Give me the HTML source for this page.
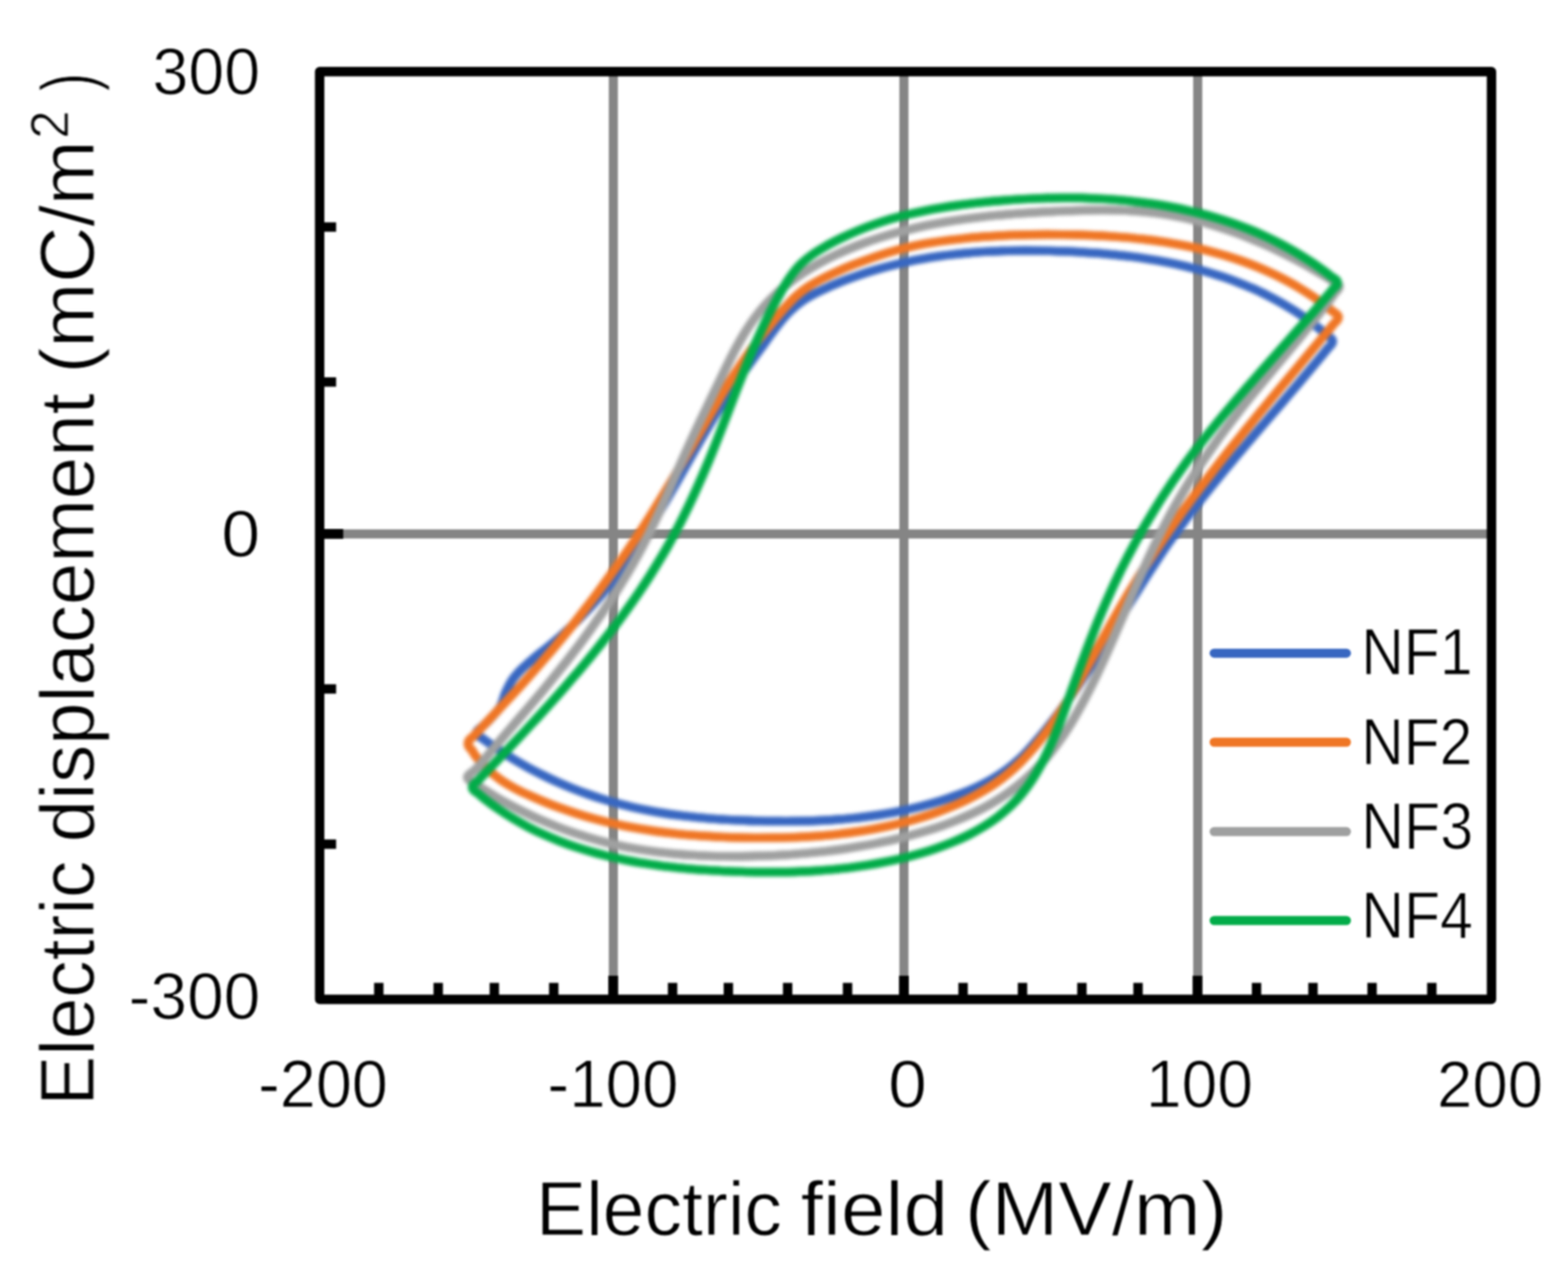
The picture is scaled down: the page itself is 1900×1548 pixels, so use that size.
<!DOCTYPE html>
<html lang="en">
<head>
<meta charset="utf-8">
<title>Electric displacement vs. electric field hysteresis loops (NF1-NF4)</title>
<style>
html,body{margin:0;padding:0;background:#fff;}
body{width:1900px;height:1548px;overflow:hidden;}
svg{display:block;}
.ln{filter:blur(1.0px);}
.cv{filter:blur(2.3px);}
.tx{filter:blur(1.0px);}
text{font-family:"Liberation Sans", sans-serif;fill:#000;stroke:#fff;stroke-width:1.0px;stroke-linejoin:round;}
</style>
</head>
<body>
<svg width="1900" height="1548" viewBox="0 0 1900 1548">
<rect x="0" y="0" width="1900" height="1548" fill="#fff"/>
<g class="ln" stroke="#858585" stroke-width="11" fill="none">
<line x1="743.2" y1="86.8" x2="743.2" y2="1210.5"/>
<line x1="1095.3" y1="86.8" x2="1095.3" y2="1210.5"/>
<line x1="1451.3" y1="86.8" x2="1451.3" y2="1210.5"/>
<line x1="387.3" y1="646.8" x2="1807.3" y2="646.8"/>
</g>
<g class="cv" fill="none" stroke-width="10.4" stroke-linejoin="round" stroke-linecap="round">
<g stroke="#3867C1"><path transform="translate(-0.4 0)" d="M1608.4 406.5C1607.2 405.4 1604.8 403.0 1600.9 399.9C1597.1 396.8 1590.6 391.8 1585.3 387.9C1580.1 384.1 1574.7 380.4 1569.3 376.9C1563.8 373.4 1558.3 370.1 1552.8 366.9C1547.2 363.7 1541.5 360.7 1535.8 357.8C1530.1 355.0 1524.3 352.2 1518.5 349.6C1512.7 347.1 1506.8 344.6 1500.8 342.3C1494.9 340.0 1488.9 337.8 1482.8 335.7C1476.8 333.7 1470.7 331.7 1464.5 329.9C1458.4 328.1 1452.2 326.4 1446.0 324.8C1439.7 323.3 1433.5 321.8 1427.2 320.4C1420.9 319.0 1414.5 317.8 1408.2 316.6C1401.8 315.4 1395.4 314.4 1389.0 313.4C1382.6 312.4 1376.1 311.5 1369.7 310.7C1363.2 309.9 1356.7 309.2 1350.2 308.5C1343.7 307.9 1337.2 307.3 1330.7 306.8C1324.2 306.3 1317.7 305.9 1311.2 305.5C1304.6 305.1 1298.1 304.8 1291.6 304.5C1285.1 304.3 1278.5 304.1 1272.0 303.9C1265.5 303.7 1259.0 303.6 1252.5 303.6C1246.0 303.5 1239.5 303.5 1233.0 303.6C1226.5 303.7 1220.0 303.8 1213.5 304.0C1207.1 304.2 1200.6 304.5 1194.2 304.9C1187.7 305.3 1181.3 305.7 1174.9 306.2C1168.4 306.8 1162.0 307.4 1155.7 308.1C1149.3 308.8 1142.9 309.6 1136.5 310.5C1130.2 311.5 1123.8 312.5 1117.5 313.6C1111.2 314.7 1104.9 315.9 1098.6 317.3C1092.4 318.6 1086.1 320.1 1079.9 321.7C1073.7 323.2 1067.5 324.9 1061.3 326.8C1055.1 328.6 1048.9 330.5 1042.8 332.6C1036.7 334.7 1030.6 336.9 1024.5 339.2C1018.5 341.6 1012.5 344.0 1006.5 346.6C1000.5 349.3 994.4 351.9 988.7 354.9C982.9 357.9 977.1 361.1 971.9 364.8C966.7 368.5 961.8 372.6 957.2 377.1C952.6 381.5 948.5 386.4 944.4 391.4C940.3 396.4 936.5 401.7 932.6 407.0C928.8 412.2 925.1 417.6 921.3 422.8C917.5 428.1 913.7 433.2 909.9 438.4C906.1 443.6 902.3 448.8 898.6 454.0C894.9 459.2 891.3 464.4 887.7 469.8C884.1 475.1 880.6 480.5 877.1 485.9C873.7 491.4 870.2 496.9 866.9 502.4C863.5 508.0 860.2 513.5 856.9 519.1C853.6 524.7 850.3 530.4 847.1 536.0C843.9 541.7 840.6 547.3 837.4 553.0C834.2 558.7 831.0 564.4 827.8 570.0C824.6 575.7 821.4 581.3 818.2 587.0C815.0 592.6 811.8 598.2 808.5 603.8C805.3 609.4 802.0 614.9 798.7 620.4C795.4 625.9 792.1 631.4 788.7 636.8C785.3 642.3 781.9 647.7 778.4 653.0C774.9 658.4 771.3 663.7 767.7 669.0C764.1 674.2 760.5 679.4 756.7 684.6C752.9 689.8 749.1 694.9 745.2 700.0C741.3 705.0 737.3 710.0 733.2 715.0C729.1 719.9 724.9 724.8 720.6 729.6C716.3 734.5 711.9 739.2 707.3 743.9C702.8 748.6 698.1 753.3 693.3 757.8C688.5 762.4 683.6 766.9 678.6 771.3C673.5 775.7 668.2 780.1 663.0 784.4C657.7 788.7 652.2 792.9 647.0 797.2C641.9 801.5 636.8 805.8 632.3 810.3C627.8 814.8 623.6 819.4 620.3 824.3C617.0 829.2 614.8 834.3 612.4 839.7C610.1 845.0 609.5 850.8 606.1 856.4C602.7 861.9 595.7 868.8 591.9 873.0C588.1 877.1 584.7 879.8 583.3 881.1Q571.4 888.3 584.0 893.9C585.3 894.9 587.7 896.8 591.6 899.5C595.5 902.3 602.2 906.9 607.6 910.4C613.0 913.9 618.5 917.3 624.0 920.6C629.6 923.9 635.2 927.1 640.8 930.2C646.5 933.2 652.2 936.2 658.0 939.0C663.7 941.9 669.5 944.6 675.4 947.2C681.3 949.8 687.2 952.3 693.1 954.7C699.1 957.1 705.1 959.4 711.1 961.5C717.2 963.7 723.3 965.7 729.4 967.6C735.5 969.5 741.7 971.3 747.9 973.0C754.1 974.7 760.3 976.2 766.5 977.7C772.8 979.1 779.1 980.4 785.4 981.6C791.7 982.9 798.0 984.0 804.4 985.0C810.7 986.0 817.1 986.9 823.5 987.7C829.9 988.5 836.3 989.2 842.7 989.9C849.1 990.5 855.5 991.1 862.0 991.6C868.4 992.1 874.9 992.5 881.3 992.9C887.7 993.3 894.2 993.6 900.7 993.8C907.1 994.1 913.6 994.3 920.0 994.4C926.5 994.6 932.9 994.7 939.3 994.8C945.8 994.8 952.2 994.9 958.6 994.8C965.1 994.7 971.5 994.6 977.9 994.5C984.3 994.3 990.7 994.0 997.1 993.7C1003.6 993.4 1010.0 993.0 1016.3 992.5C1022.7 992.0 1029.1 991.5 1035.5 990.8C1041.9 990.1 1048.2 989.4 1054.6 988.5C1060.9 987.7 1067.3 986.7 1073.6 985.6C1080.0 984.6 1086.3 983.4 1092.6 982.1C1098.9 980.8 1105.3 979.4 1111.6 977.8C1117.9 976.3 1124.1 974.6 1130.4 972.8C1136.7 971.0 1143.0 969.1 1149.2 966.9C1155.4 964.8 1161.7 962.6 1167.8 960.2C1173.9 957.7 1180.0 955.2 1185.8 952.3C1191.7 949.5 1197.5 946.5 1203.1 943.2C1208.6 940.0 1214.1 936.5 1219.2 932.8C1224.3 929.0 1229.2 925.0 1233.9 920.7C1238.6 916.5 1242.9 911.9 1247.2 907.2C1251.5 902.6 1255.6 897.8 1259.7 893.0C1263.8 888.1 1267.8 883.2 1271.7 878.2C1275.6 873.2 1279.5 868.2 1283.3 863.1C1287.1 858.0 1290.8 852.8 1294.5 847.6C1298.2 842.4 1301.8 837.1 1305.4 831.8C1309.0 826.5 1312.6 821.1 1316.1 815.7C1319.6 810.3 1323.1 804.9 1326.5 799.4C1330.0 794.0 1333.4 788.5 1336.8 783.0C1340.2 777.5 1343.6 772.0 1347.0 766.5C1350.4 761.0 1353.8 755.4 1357.2 749.9C1360.5 744.3 1363.9 738.8 1367.3 733.3C1370.7 727.7 1374.1 722.2 1377.6 716.7C1381.0 711.2 1384.4 705.7 1387.9 700.2C1391.4 694.7 1394.9 689.3 1398.5 683.9C1402.0 678.4 1405.6 673.0 1409.2 667.7C1412.8 662.3 1416.5 657.0 1420.3 651.8C1424.0 646.5 1427.8 641.3 1431.6 636.1C1435.4 630.9 1439.3 625.7 1443.2 620.6C1447.1 615.5 1451.0 610.4 1455.0 605.3C1459.0 600.2 1463.0 595.2 1467.0 590.2C1471.1 585.2 1475.2 580.2 1479.2 575.2C1483.3 570.2 1487.4 565.3 1491.6 560.3C1495.7 555.4 1499.9 550.5 1504.0 545.6C1508.2 540.7 1512.3 535.8 1516.5 530.9C1520.7 526.0 1524.9 521.1 1529.1 516.2C1533.3 511.4 1537.4 506.5 1541.6 501.6C1545.8 496.7 1550.0 491.9 1554.2 487.0C1558.4 482.1 1562.5 477.2 1566.7 472.3C1570.9 467.5 1575.1 462.6 1579.2 457.6C1583.4 452.7 1587.5 447.8 1591.6 442.9C1595.8 437.9 1601.0 431.7 1604.0 428.0C1607.0 424.3 1608.8 422.0 1609.8 420.8Q1620.1 412.6 1608.4 406.5Z"/><path transform="translate(0.4 0)" d="M1608.4 406.5C1607.2 405.4 1604.8 403.0 1600.9 399.9C1597.1 396.8 1590.6 391.8 1585.3 387.9C1580.1 384.1 1574.7 380.4 1569.3 376.9C1563.8 373.4 1558.3 370.1 1552.8 366.9C1547.2 363.7 1541.5 360.7 1535.8 357.8C1530.1 355.0 1524.3 352.2 1518.5 349.6C1512.7 347.1 1506.8 344.6 1500.8 342.3C1494.9 340.0 1488.9 337.8 1482.8 335.7C1476.8 333.7 1470.7 331.7 1464.5 329.9C1458.4 328.1 1452.2 326.4 1446.0 324.8C1439.7 323.3 1433.5 321.8 1427.2 320.4C1420.9 319.0 1414.5 317.8 1408.2 316.6C1401.8 315.4 1395.4 314.4 1389.0 313.4C1382.6 312.4 1376.1 311.5 1369.7 310.7C1363.2 309.9 1356.7 309.2 1350.2 308.5C1343.7 307.9 1337.2 307.3 1330.7 306.8C1324.2 306.3 1317.7 305.9 1311.2 305.5C1304.6 305.1 1298.1 304.8 1291.6 304.5C1285.1 304.3 1278.5 304.1 1272.0 303.9C1265.5 303.7 1259.0 303.6 1252.5 303.6C1246.0 303.5 1239.5 303.5 1233.0 303.6C1226.5 303.7 1220.0 303.8 1213.5 304.0C1207.1 304.2 1200.6 304.5 1194.2 304.9C1187.7 305.3 1181.3 305.7 1174.9 306.2C1168.4 306.8 1162.0 307.4 1155.7 308.1C1149.3 308.8 1142.9 309.6 1136.5 310.5C1130.2 311.5 1123.8 312.5 1117.5 313.6C1111.2 314.7 1104.9 315.9 1098.6 317.3C1092.4 318.6 1086.1 320.1 1079.9 321.7C1073.7 323.2 1067.5 324.9 1061.3 326.8C1055.1 328.6 1048.9 330.5 1042.8 332.6C1036.7 334.7 1030.6 336.9 1024.5 339.2C1018.5 341.6 1012.5 344.0 1006.5 346.6C1000.5 349.3 994.4 351.9 988.7 354.9C982.9 357.9 977.1 361.1 971.9 364.8C966.7 368.5 961.8 372.6 957.2 377.1C952.6 381.5 948.5 386.4 944.4 391.4C940.3 396.4 936.5 401.7 932.6 407.0C928.8 412.2 925.1 417.6 921.3 422.8C917.5 428.1 913.7 433.2 909.9 438.4C906.1 443.6 902.3 448.8 898.6 454.0C894.9 459.2 891.3 464.4 887.7 469.8C884.1 475.1 880.6 480.5 877.1 485.9C873.7 491.4 870.2 496.9 866.9 502.4C863.5 508.0 860.2 513.5 856.9 519.1C853.6 524.7 850.3 530.4 847.1 536.0C843.9 541.7 840.6 547.3 837.4 553.0C834.2 558.7 831.0 564.4 827.8 570.0C824.6 575.7 821.4 581.3 818.2 587.0C815.0 592.6 811.8 598.2 808.5 603.8C805.3 609.4 802.0 614.9 798.7 620.4C795.4 625.9 792.1 631.4 788.7 636.8C785.3 642.3 781.9 647.7 778.4 653.0C774.9 658.4 771.3 663.7 767.7 669.0C764.1 674.2 760.5 679.4 756.7 684.6C752.9 689.8 749.1 694.9 745.2 700.0C741.3 705.0 737.3 710.0 733.2 715.0C729.1 719.9 724.9 724.8 720.6 729.6C716.3 734.5 711.9 739.2 707.3 743.9C702.8 748.6 698.1 753.3 693.3 757.8C688.5 762.4 683.6 766.9 678.6 771.3C673.5 775.7 668.2 780.1 663.0 784.4C657.7 788.7 652.2 792.9 647.0 797.2C641.9 801.5 636.8 805.8 632.3 810.3C627.8 814.8 623.6 819.4 620.3 824.3C617.0 829.2 614.8 834.3 612.4 839.7C610.1 845.0 609.5 850.8 606.1 856.4C602.7 861.9 595.7 868.8 591.9 873.0C588.1 877.1 584.7 879.8 583.3 881.1Q571.4 888.3 584.0 893.9C585.3 894.9 587.7 896.8 591.6 899.5C595.5 902.3 602.2 906.9 607.6 910.4C613.0 913.9 618.5 917.3 624.0 920.6C629.6 923.9 635.2 927.1 640.8 930.2C646.5 933.2 652.2 936.2 658.0 939.0C663.7 941.9 669.5 944.6 675.4 947.2C681.3 949.8 687.2 952.3 693.1 954.7C699.1 957.1 705.1 959.4 711.1 961.5C717.2 963.7 723.3 965.7 729.4 967.6C735.5 969.5 741.7 971.3 747.9 973.0C754.1 974.7 760.3 976.2 766.5 977.7C772.8 979.1 779.1 980.4 785.4 981.6C791.7 982.9 798.0 984.0 804.4 985.0C810.7 986.0 817.1 986.9 823.5 987.7C829.9 988.5 836.3 989.2 842.7 989.9C849.1 990.5 855.5 991.1 862.0 991.6C868.4 992.1 874.9 992.5 881.3 992.9C887.7 993.3 894.2 993.6 900.7 993.8C907.1 994.1 913.6 994.3 920.0 994.4C926.5 994.6 932.9 994.7 939.3 994.8C945.8 994.8 952.2 994.9 958.6 994.8C965.1 994.7 971.5 994.6 977.9 994.5C984.3 994.3 990.7 994.0 997.1 993.7C1003.6 993.4 1010.0 993.0 1016.3 992.5C1022.7 992.0 1029.1 991.5 1035.5 990.8C1041.9 990.1 1048.2 989.4 1054.6 988.5C1060.9 987.7 1067.3 986.7 1073.6 985.6C1080.0 984.6 1086.3 983.4 1092.6 982.1C1098.9 980.8 1105.3 979.4 1111.6 977.8C1117.9 976.3 1124.1 974.6 1130.4 972.8C1136.7 971.0 1143.0 969.1 1149.2 966.9C1155.4 964.8 1161.7 962.6 1167.8 960.2C1173.9 957.7 1180.0 955.2 1185.8 952.3C1191.7 949.5 1197.5 946.5 1203.1 943.2C1208.6 940.0 1214.1 936.5 1219.2 932.8C1224.3 929.0 1229.2 925.0 1233.9 920.7C1238.6 916.5 1242.9 911.9 1247.2 907.2C1251.5 902.6 1255.6 897.8 1259.7 893.0C1263.8 888.1 1267.8 883.2 1271.7 878.2C1275.6 873.2 1279.5 868.2 1283.3 863.1C1287.1 858.0 1290.8 852.8 1294.5 847.6C1298.2 842.4 1301.8 837.1 1305.4 831.8C1309.0 826.5 1312.6 821.1 1316.1 815.7C1319.6 810.3 1323.1 804.9 1326.5 799.4C1330.0 794.0 1333.4 788.5 1336.8 783.0C1340.2 777.5 1343.6 772.0 1347.0 766.5C1350.4 761.0 1353.8 755.4 1357.2 749.9C1360.5 744.3 1363.9 738.8 1367.3 733.3C1370.7 727.7 1374.1 722.2 1377.6 716.7C1381.0 711.2 1384.4 705.7 1387.9 700.2C1391.4 694.7 1394.9 689.3 1398.5 683.9C1402.0 678.4 1405.6 673.0 1409.2 667.7C1412.8 662.3 1416.5 657.0 1420.3 651.8C1424.0 646.5 1427.8 641.3 1431.6 636.1C1435.4 630.9 1439.3 625.7 1443.2 620.6C1447.1 615.5 1451.0 610.4 1455.0 605.3C1459.0 600.2 1463.0 595.2 1467.0 590.2C1471.1 585.2 1475.2 580.2 1479.2 575.2C1483.3 570.2 1487.4 565.3 1491.6 560.3C1495.7 555.4 1499.9 550.5 1504.0 545.6C1508.2 540.7 1512.3 535.8 1516.5 530.9C1520.7 526.0 1524.9 521.1 1529.1 516.2C1533.3 511.4 1537.4 506.5 1541.6 501.6C1545.8 496.7 1550.0 491.9 1554.2 487.0C1558.4 482.1 1562.5 477.2 1566.7 472.3C1570.9 467.5 1575.1 462.6 1579.2 457.6C1583.4 452.7 1587.5 447.8 1591.6 442.9C1595.8 437.9 1601.0 431.7 1604.0 428.0C1607.0 424.3 1608.8 422.0 1609.8 420.8Q1620.1 412.6 1608.4 406.5Z"/></g>
<g stroke="#EF7625"><path transform="translate(-0.4 0)" d="M1615.3 377.7C1613.9 376.6 1611.3 374.1 1607.2 371.1C1603.2 368.0 1596.5 363.0 1591.0 359.3C1585.5 355.5 1579.9 352.0 1574.2 348.6C1568.6 345.2 1562.8 342.0 1557.0 338.9C1551.2 335.8 1545.4 332.9 1539.4 330.2C1533.5 327.5 1527.5 324.9 1521.4 322.4C1515.4 320.0 1509.3 317.7 1503.1 315.5C1496.9 313.4 1490.7 311.4 1484.4 309.5C1478.2 307.6 1471.8 305.9 1465.5 304.2C1459.1 302.6 1452.7 301.1 1446.3 299.7C1439.8 298.3 1433.4 297.0 1426.8 295.8C1420.3 294.7 1413.8 293.6 1407.2 292.6C1400.7 291.7 1394.1 290.8 1387.5 290.0C1380.8 289.2 1374.2 288.6 1367.6 287.9C1360.9 287.3 1354.2 286.8 1347.6 286.4C1340.9 285.9 1334.2 285.5 1327.5 285.2C1320.8 284.9 1314.1 284.7 1307.4 284.5C1300.7 284.3 1294.0 284.2 1287.3 284.1C1280.6 284.0 1273.9 284.0 1267.3 284.0C1260.6 284.0 1253.9 284.1 1247.3 284.2C1240.6 284.3 1233.9 284.5 1227.3 284.7C1220.7 285.0 1214.0 285.3 1207.4 285.7C1200.8 286.0 1194.2 286.5 1187.7 287.0C1181.1 287.5 1174.5 288.1 1168.0 288.8C1161.4 289.5 1154.9 290.2 1148.4 291.1C1141.9 291.9 1135.4 292.8 1128.9 293.9C1122.5 294.9 1116.0 296.1 1109.6 297.4C1103.2 298.8 1096.8 300.3 1090.4 302.0C1084.1 303.7 1077.7 305.6 1071.4 307.5C1065.1 309.5 1058.8 311.6 1052.6 313.8C1046.3 316.0 1040.1 318.3 1033.9 320.7C1027.8 323.1 1021.6 325.7 1015.5 328.4C1009.4 331.1 1003.3 333.9 997.4 337.0C991.4 340.1 985.4 343.3 979.9 346.9C974.4 350.5 969.2 354.5 964.4 358.8C959.6 363.1 955.4 367.9 951.0 372.8C946.5 377.6 942.2 382.8 937.9 388.0C933.6 393.2 929.2 398.5 925.0 403.9C920.8 409.3 916.6 414.9 912.5 420.3C908.5 425.8 904.6 431.4 900.8 436.9C897.1 442.4 893.5 447.9 889.9 453.4C886.4 458.9 883.0 464.3 879.6 469.9C876.2 475.4 872.9 480.9 869.7 486.4C866.4 492.0 863.2 497.5 859.9 503.1C856.7 508.7 853.4 514.3 850.2 520.0C847.0 525.6 843.7 531.2 840.5 536.9C837.2 542.5 833.9 548.2 830.6 553.9C827.4 559.6 824.1 565.3 820.7 570.9C817.4 576.6 814.1 582.3 810.7 588.0C807.3 593.6 803.9 599.3 800.4 605.0C797.0 610.6 793.5 616.3 790.0 621.9C786.5 627.5 782.9 633.1 779.3 638.7C775.7 644.2 772.0 649.8 768.3 655.3C764.7 660.9 760.9 666.4 757.2 671.8C753.4 677.3 749.6 682.8 745.8 688.2C741.9 693.6 738.0 699.0 734.1 704.4C730.2 709.8 726.3 715.1 722.3 720.5C718.3 725.8 714.3 731.1 710.2 736.3C706.2 741.6 702.1 746.8 698.0 752.0C693.9 757.1 689.7 762.3 685.5 767.4C681.3 772.5 677.1 777.6 672.9 782.6C668.7 787.7 664.4 792.7 660.1 797.6C655.8 802.6 651.5 807.6 647.1 812.5C642.8 817.4 638.4 822.3 634.0 827.2C629.5 832.1 625.1 836.9 620.7 841.8C616.2 846.6 611.7 851.5 607.2 856.3C602.7 861.2 598.2 866.0 593.6 870.8C589.0 875.7 583.3 881.7 579.9 885.4C576.4 889.0 574.0 891.5 572.9 892.7Q562.3 899.7 571.6 908.3C572.5 909.8 574.2 913.2 577.5 917.2C580.7 921.1 586.3 927.4 591.1 932.0C596.0 936.5 601.2 940.7 606.5 944.5C611.9 948.3 617.6 951.5 623.4 954.7C629.2 957.8 635.2 960.5 641.2 963.3C647.3 966.1 653.6 968.8 659.9 971.3C666.1 973.9 672.5 976.4 678.9 978.7C685.3 981.0 691.7 983.2 698.1 985.2C704.5 987.3 711.0 989.2 717.4 991.0C723.9 992.8 730.3 994.5 736.8 996.0C743.3 997.6 749.8 999.0 756.3 1000.3C762.8 1001.6 769.4 1002.8 775.9 1003.9C782.5 1005.0 789.1 1006.0 795.6 1007.0C802.2 1007.9 808.8 1008.7 815.4 1009.4C822.1 1010.2 828.7 1010.8 835.3 1011.4C842.0 1011.9 848.7 1012.4 855.3 1012.8C862.0 1013.2 868.7 1013.6 875.4 1013.9C882.1 1014.2 888.9 1014.4 895.6 1014.5C902.4 1014.7 909.1 1014.8 915.9 1014.9C922.7 1014.9 929.5 1014.9 936.2 1014.8C943.0 1014.7 949.8 1014.6 956.6 1014.4C963.4 1014.2 970.2 1013.9 977.0 1013.5C983.8 1013.1 990.5 1012.6 997.3 1012.1C1004.1 1011.5 1010.8 1010.9 1017.5 1010.1C1024.3 1009.3 1031.0 1008.5 1037.6 1007.5C1044.3 1006.6 1051.0 1005.5 1057.6 1004.3C1064.2 1003.1 1070.8 1001.8 1077.4 1000.4C1083.9 999.0 1090.4 997.4 1096.9 995.8C1103.4 994.1 1109.8 992.3 1116.2 990.3C1122.5 988.3 1128.8 986.3 1135.1 984.0C1141.4 981.8 1147.6 979.4 1153.7 976.8C1159.8 974.3 1165.9 971.6 1171.9 968.6C1177.8 965.7 1183.7 962.6 1189.4 959.3C1195.2 955.9 1200.8 952.4 1206.3 948.6C1211.7 944.8 1217.1 940.7 1222.2 936.4C1227.4 932.1 1232.4 927.5 1237.2 922.7C1242.0 917.9 1246.6 912.7 1251.1 907.6C1255.6 902.4 1259.8 897.1 1264.0 891.7C1268.2 886.3 1272.1 880.9 1276.0 875.4C1279.9 869.9 1283.6 864.3 1287.3 858.7C1290.9 853.1 1294.4 847.4 1297.9 841.7C1301.4 836.0 1304.7 830.2 1308.1 824.5C1311.4 818.7 1314.7 812.9 1317.9 807.1C1321.2 801.2 1324.4 795.4 1327.6 789.5C1330.8 783.7 1334.0 777.8 1337.2 772.0C1340.4 766.2 1343.6 760.3 1346.9 754.5C1350.2 748.6 1353.5 742.8 1356.8 737.0C1360.2 731.2 1363.6 725.5 1367.0 719.7C1370.5 713.9 1374.0 708.2 1377.5 702.5C1381.0 696.8 1384.6 691.1 1388.2 685.4C1391.8 679.8 1395.5 674.1 1399.2 668.5C1402.9 662.9 1406.6 657.4 1410.4 651.8C1414.2 646.3 1418.0 640.8 1421.9 635.3C1425.7 629.8 1429.6 624.3 1433.5 618.9C1437.5 613.5 1441.4 608.1 1445.4 602.7C1449.4 597.3 1453.5 591.9 1457.5 586.6C1461.6 581.3 1465.7 576.0 1469.8 570.7C1473.9 565.4 1478.0 560.1 1482.2 554.8C1486.3 549.5 1490.5 544.3 1494.7 539.1C1498.9 533.8 1503.1 528.6 1507.3 523.4C1511.6 518.2 1515.8 513.0 1520.1 507.8C1524.3 502.6 1528.6 497.5 1532.9 492.3C1537.2 487.1 1541.5 481.9 1545.7 476.8C1550.0 471.6 1554.3 466.5 1558.6 461.3C1562.9 456.2 1567.3 451.0 1571.6 445.9C1575.9 440.7 1580.2 435.6 1584.5 430.4C1588.8 425.3 1593.1 420.1 1597.4 415.0C1601.6 409.8 1607.0 403.4 1610.2 399.5C1613.4 395.6 1615.6 393.0 1616.6 391.7Q1627.2 383.6 1615.3 377.7Z"/><path transform="translate(0.4 0)" d="M1615.3 377.7C1613.9 376.6 1611.3 374.1 1607.2 371.1C1603.2 368.0 1596.5 363.0 1591.0 359.3C1585.5 355.5 1579.9 352.0 1574.2 348.6C1568.6 345.2 1562.8 342.0 1557.0 338.9C1551.2 335.8 1545.4 332.9 1539.4 330.2C1533.5 327.5 1527.5 324.9 1521.4 322.4C1515.4 320.0 1509.3 317.7 1503.1 315.5C1496.9 313.4 1490.7 311.4 1484.4 309.5C1478.2 307.6 1471.8 305.9 1465.5 304.2C1459.1 302.6 1452.7 301.1 1446.3 299.7C1439.8 298.3 1433.4 297.0 1426.8 295.8C1420.3 294.7 1413.8 293.6 1407.2 292.6C1400.7 291.7 1394.1 290.8 1387.5 290.0C1380.8 289.2 1374.2 288.6 1367.6 287.9C1360.9 287.3 1354.2 286.8 1347.6 286.4C1340.9 285.9 1334.2 285.5 1327.5 285.2C1320.8 284.9 1314.1 284.7 1307.4 284.5C1300.7 284.3 1294.0 284.2 1287.3 284.1C1280.6 284.0 1273.9 284.0 1267.3 284.0C1260.6 284.0 1253.9 284.1 1247.3 284.2C1240.6 284.3 1233.9 284.5 1227.3 284.7C1220.7 285.0 1214.0 285.3 1207.4 285.7C1200.8 286.0 1194.2 286.5 1187.7 287.0C1181.1 287.5 1174.5 288.1 1168.0 288.8C1161.4 289.5 1154.9 290.2 1148.4 291.1C1141.9 291.9 1135.4 292.8 1128.9 293.9C1122.5 294.9 1116.0 296.1 1109.6 297.4C1103.2 298.8 1096.8 300.3 1090.4 302.0C1084.1 303.7 1077.7 305.6 1071.4 307.5C1065.1 309.5 1058.8 311.6 1052.6 313.8C1046.3 316.0 1040.1 318.3 1033.9 320.7C1027.8 323.1 1021.6 325.7 1015.5 328.4C1009.4 331.1 1003.3 333.9 997.4 337.0C991.4 340.1 985.4 343.3 979.9 346.9C974.4 350.5 969.2 354.5 964.4 358.8C959.6 363.1 955.4 367.9 951.0 372.8C946.5 377.6 942.2 382.8 937.9 388.0C933.6 393.2 929.2 398.5 925.0 403.9C920.8 409.3 916.6 414.9 912.5 420.3C908.5 425.8 904.6 431.4 900.8 436.9C897.1 442.4 893.5 447.9 889.9 453.4C886.4 458.9 883.0 464.3 879.6 469.9C876.2 475.4 872.9 480.9 869.7 486.4C866.4 492.0 863.2 497.5 859.9 503.1C856.7 508.7 853.4 514.3 850.2 520.0C847.0 525.6 843.7 531.2 840.5 536.9C837.2 542.5 833.9 548.2 830.6 553.9C827.4 559.6 824.1 565.3 820.7 570.9C817.4 576.6 814.1 582.3 810.7 588.0C807.3 593.6 803.9 599.3 800.4 605.0C797.0 610.6 793.5 616.3 790.0 621.9C786.5 627.5 782.9 633.1 779.3 638.7C775.7 644.2 772.0 649.8 768.3 655.3C764.7 660.9 760.9 666.4 757.2 671.8C753.4 677.3 749.6 682.8 745.8 688.2C741.9 693.6 738.0 699.0 734.1 704.4C730.2 709.8 726.3 715.1 722.3 720.5C718.3 725.8 714.3 731.1 710.2 736.3C706.2 741.6 702.1 746.8 698.0 752.0C693.9 757.1 689.7 762.3 685.5 767.4C681.3 772.5 677.1 777.6 672.9 782.6C668.7 787.7 664.4 792.7 660.1 797.6C655.8 802.6 651.5 807.6 647.1 812.5C642.8 817.4 638.4 822.3 634.0 827.2C629.5 832.1 625.1 836.9 620.7 841.8C616.2 846.6 611.7 851.5 607.2 856.3C602.7 861.2 598.2 866.0 593.6 870.8C589.0 875.7 583.3 881.7 579.9 885.4C576.4 889.0 574.0 891.5 572.9 892.7Q562.3 899.7 571.6 908.3C572.5 909.8 574.2 913.2 577.5 917.2C580.7 921.1 586.3 927.4 591.1 932.0C596.0 936.5 601.2 940.7 606.5 944.5C611.9 948.3 617.6 951.5 623.4 954.7C629.2 957.8 635.2 960.5 641.2 963.3C647.3 966.1 653.6 968.8 659.9 971.3C666.1 973.9 672.5 976.4 678.9 978.7C685.3 981.0 691.7 983.2 698.1 985.2C704.5 987.3 711.0 989.2 717.4 991.0C723.9 992.8 730.3 994.5 736.8 996.0C743.3 997.6 749.8 999.0 756.3 1000.3C762.8 1001.6 769.4 1002.8 775.9 1003.9C782.5 1005.0 789.1 1006.0 795.6 1007.0C802.2 1007.9 808.8 1008.7 815.4 1009.4C822.1 1010.2 828.7 1010.8 835.3 1011.4C842.0 1011.9 848.7 1012.4 855.3 1012.8C862.0 1013.2 868.7 1013.6 875.4 1013.9C882.1 1014.2 888.9 1014.4 895.6 1014.5C902.4 1014.7 909.1 1014.8 915.9 1014.9C922.7 1014.9 929.5 1014.9 936.2 1014.8C943.0 1014.7 949.8 1014.6 956.6 1014.4C963.4 1014.2 970.2 1013.9 977.0 1013.5C983.8 1013.1 990.5 1012.6 997.3 1012.1C1004.1 1011.5 1010.8 1010.9 1017.5 1010.1C1024.3 1009.3 1031.0 1008.5 1037.6 1007.5C1044.3 1006.6 1051.0 1005.5 1057.6 1004.3C1064.2 1003.1 1070.8 1001.8 1077.4 1000.4C1083.9 999.0 1090.4 997.4 1096.9 995.8C1103.4 994.1 1109.8 992.3 1116.2 990.3C1122.5 988.3 1128.8 986.3 1135.1 984.0C1141.4 981.8 1147.6 979.4 1153.7 976.8C1159.8 974.3 1165.9 971.6 1171.9 968.6C1177.8 965.7 1183.7 962.6 1189.4 959.3C1195.2 955.9 1200.8 952.4 1206.3 948.6C1211.7 944.8 1217.1 940.7 1222.2 936.4C1227.4 932.1 1232.4 927.5 1237.2 922.7C1242.0 917.9 1246.6 912.7 1251.1 907.6C1255.6 902.4 1259.8 897.1 1264.0 891.7C1268.2 886.3 1272.1 880.9 1276.0 875.4C1279.9 869.9 1283.6 864.3 1287.3 858.7C1290.9 853.1 1294.4 847.4 1297.9 841.7C1301.4 836.0 1304.7 830.2 1308.1 824.5C1311.4 818.7 1314.7 812.9 1317.9 807.1C1321.2 801.2 1324.4 795.4 1327.6 789.5C1330.8 783.7 1334.0 777.8 1337.2 772.0C1340.4 766.2 1343.6 760.3 1346.9 754.5C1350.2 748.6 1353.5 742.8 1356.8 737.0C1360.2 731.2 1363.6 725.5 1367.0 719.7C1370.5 713.9 1374.0 708.2 1377.5 702.5C1381.0 696.8 1384.6 691.1 1388.2 685.4C1391.8 679.8 1395.5 674.1 1399.2 668.5C1402.9 662.9 1406.6 657.4 1410.4 651.8C1414.2 646.3 1418.0 640.8 1421.9 635.3C1425.7 629.8 1429.6 624.3 1433.5 618.9C1437.5 613.5 1441.4 608.1 1445.4 602.7C1449.4 597.3 1453.5 591.9 1457.5 586.6C1461.6 581.3 1465.7 576.0 1469.8 570.7C1473.9 565.4 1478.0 560.1 1482.2 554.8C1486.3 549.5 1490.5 544.3 1494.7 539.1C1498.9 533.8 1503.1 528.6 1507.3 523.4C1511.6 518.2 1515.8 513.0 1520.1 507.8C1524.3 502.6 1528.6 497.5 1532.9 492.3C1537.2 487.1 1541.5 481.9 1545.7 476.8C1550.0 471.6 1554.3 466.5 1558.6 461.3C1562.9 456.2 1567.3 451.0 1571.6 445.9C1575.9 440.7 1580.2 435.6 1584.5 430.4C1588.8 425.3 1593.1 420.1 1597.4 415.0C1601.6 409.8 1607.0 403.4 1610.2 399.5C1613.4 395.6 1615.6 393.0 1616.6 391.7Q1627.2 383.6 1615.3 377.7Z"/></g>
<g stroke="#9FA0A0"><path transform="translate(-0.4 0)" d="M1615.5 340.7C1614.1 339.8 1611.2 337.9 1606.8 335.3C1602.4 332.6 1595.1 328.3 1589.1 324.9C1583.2 321.5 1577.1 318.2 1571.1 315.0C1565.0 311.8 1558.8 308.6 1552.6 305.6C1546.4 302.6 1540.2 299.6 1533.9 296.8C1527.6 294.0 1521.2 291.2 1514.8 288.6C1508.4 286.0 1501.9 283.5 1495.4 281.2C1488.9 278.8 1482.3 276.6 1475.7 274.5C1469.2 272.5 1462.5 270.5 1455.9 268.8C1449.2 267.0 1442.5 265.4 1435.8 263.9C1429.1 262.5 1422.3 261.2 1415.5 260.1C1408.7 259.0 1401.9 258.1 1395.1 257.3C1388.3 256.6 1381.4 256.0 1374.6 255.5C1367.7 255.1 1360.8 254.8 1353.9 254.6C1347.0 254.4 1340.1 254.3 1333.2 254.4C1326.3 254.4 1319.4 254.5 1312.5 254.7C1305.6 254.8 1298.7 255.1 1291.8 255.4C1284.8 255.6 1277.9 256.0 1271.0 256.3C1264.1 256.7 1257.2 257.1 1250.3 257.5C1243.5 257.9 1236.6 258.4 1229.7 258.9C1222.8 259.5 1216.0 260.0 1209.1 260.7C1202.3 261.3 1195.4 262.0 1188.6 262.8C1181.8 263.6 1175.0 264.5 1168.2 265.4C1161.4 266.4 1154.6 267.4 1147.9 268.5C1141.1 269.7 1134.4 270.9 1127.6 272.2C1120.9 273.6 1114.2 275.0 1107.5 276.6C1100.8 278.1 1094.2 279.8 1087.5 281.6C1080.9 283.4 1074.3 285.3 1067.7 287.4C1061.1 289.5 1054.5 291.7 1048.0 294.0C1041.5 296.4 1035.0 298.9 1028.6 301.6C1022.2 304.2 1015.8 307.1 1009.6 310.1C1003.4 313.1 997.2 316.3 991.2 319.6C985.2 323.0 979.3 326.6 973.5 330.3C967.8 334.1 962.2 338.1 956.8 342.2C951.4 346.4 946.2 350.8 941.2 355.4C936.2 360.1 931.4 364.9 926.8 370.0C922.3 375.1 918.0 380.5 913.9 386.0C909.8 391.6 906.0 397.4 902.4 403.3C898.7 409.3 895.3 415.4 891.9 421.6C888.6 427.7 885.4 434.1 882.3 440.3C879.1 446.6 876.1 453.0 873.1 459.2C870.1 465.5 867.1 471.7 864.1 477.8C861.1 484.0 858.2 490.1 855.3 496.2C852.3 502.3 849.4 508.4 846.5 514.5C843.6 520.6 840.8 526.7 837.9 532.9C835.1 539.0 832.3 545.2 829.5 551.5C826.7 557.7 824.0 563.9 821.2 570.2C818.4 576.5 815.7 582.8 812.9 589.1C810.1 595.4 807.3 601.7 804.4 608.0C801.6 614.3 798.7 620.6 795.8 626.8C792.8 633.1 789.8 639.3 786.8 645.5C783.7 651.7 780.5 657.9 777.3 664.0C774.1 670.0 770.8 676.1 767.4 682.1C764.0 688.1 760.5 694.0 757.0 699.9C753.4 705.8 749.8 711.7 746.1 717.5C742.4 723.3 738.6 729.1 734.8 734.8C731.0 740.5 727.1 746.2 723.1 751.8C719.2 757.5 715.2 763.1 711.1 768.6C707.1 774.2 702.9 779.7 698.8 785.2C694.6 790.7 690.4 796.1 686.2 801.5C681.9 806.9 677.6 812.3 673.3 817.6C669.0 823.0 664.6 828.3 660.2 833.6C655.8 838.9 651.4 844.1 646.9 849.3C642.5 854.6 638.0 859.8 633.5 865.0C629.1 870.2 624.6 875.4 620.1 880.6C615.6 885.8 611.1 891.0 606.6 896.3C602.2 901.6 597.7 906.8 593.3 912.2C588.8 917.5 583.5 924.4 580.0 928.2C576.5 932.0 573.6 934.1 572.4 935.2Q560.3 942.3 573.3 947.6C574.7 948.6 577.7 950.8 582.1 953.7C586.5 956.5 593.8 961.1 599.7 964.6C605.7 968.2 611.7 971.6 617.7 974.9C623.8 978.1 630.0 981.3 636.2 984.3C642.4 987.4 648.6 990.3 655.0 993.1C661.3 995.8 667.7 998.5 674.1 1001.0C680.5 1003.5 687.0 1005.9 693.5 1008.2C700.0 1010.4 706.6 1012.6 713.2 1014.5C719.8 1016.5 726.5 1018.4 733.2 1020.1C739.9 1021.8 746.6 1023.4 753.3 1024.8C760.1 1026.2 766.9 1027.5 773.7 1028.6C780.5 1029.8 787.3 1030.8 794.1 1031.7C801.0 1032.6 807.9 1033.3 814.7 1034.0C821.6 1034.6 828.5 1035.1 835.4 1035.6C842.3 1036.0 849.2 1036.4 856.1 1036.6C863.1 1036.9 870.0 1037.0 876.9 1037.1C883.8 1037.2 890.7 1037.2 897.6 1037.2C904.5 1037.1 911.4 1037.0 918.3 1036.8C925.2 1036.6 932.1 1036.4 939.0 1036.1C945.9 1035.7 952.7 1035.4 959.6 1034.9C966.5 1034.4 973.3 1033.9 980.2 1033.2C987.0 1032.6 993.9 1031.9 1000.7 1031.1C1007.5 1030.3 1014.4 1029.4 1021.2 1028.5C1028.0 1027.5 1034.8 1026.4 1041.6 1025.2C1048.4 1024.1 1055.2 1022.8 1062.0 1021.5C1068.8 1020.1 1075.6 1018.6 1082.4 1017.1C1089.1 1015.5 1095.9 1013.8 1102.7 1012.0C1109.4 1010.2 1116.2 1008.3 1122.9 1006.3C1129.6 1004.3 1136.3 1002.1 1142.8 999.8C1149.4 997.4 1156.0 995.0 1162.4 992.3C1168.8 989.6 1175.2 986.8 1181.4 983.8C1187.7 980.8 1193.8 977.6 1199.8 974.2C1205.8 970.8 1211.6 967.2 1217.3 963.3C1223.0 959.5 1228.5 955.4 1233.8 951.1C1239.2 946.8 1244.3 942.3 1249.3 937.5C1254.2 932.8 1259.0 927.8 1263.6 922.7C1268.2 917.6 1272.6 912.3 1276.8 906.8C1281.0 901.4 1285.0 895.8 1288.9 890.1C1292.7 884.4 1296.4 878.5 1299.9 872.6C1303.4 866.7 1306.8 860.6 1310.1 854.6C1313.4 848.5 1316.6 842.3 1319.7 836.2C1322.8 830.0 1325.9 823.8 1328.9 817.5C1331.9 811.3 1334.8 805.0 1337.7 798.7C1340.5 792.4 1343.4 786.0 1346.2 779.7C1349.0 773.4 1351.8 767.0 1354.5 760.6C1357.3 754.2 1360.0 747.9 1362.8 741.5C1365.6 735.1 1368.3 728.7 1371.1 722.3C1373.8 716.0 1376.6 709.6 1379.4 703.2C1382.3 696.9 1385.1 690.6 1388.0 684.3C1390.8 678.0 1393.8 671.7 1396.7 665.4C1399.7 659.2 1402.7 653.0 1405.8 646.8C1408.9 640.6 1412.0 634.5 1415.3 628.4C1418.5 622.4 1421.8 616.3 1425.2 610.4C1428.6 604.4 1432.1 598.5 1435.6 592.7C1439.2 586.8 1442.8 581.0 1446.5 575.2C1450.2 569.5 1453.9 563.8 1457.8 558.1C1461.6 552.4 1465.5 546.8 1469.5 541.2C1473.4 535.6 1477.4 530.0 1481.5 524.5C1485.6 518.9 1489.8 513.4 1494.0 507.9C1498.2 502.5 1502.4 497.0 1506.7 491.6C1511.0 486.1 1515.4 480.7 1519.8 475.3C1524.2 469.9 1528.6 464.5 1533.1 459.1C1537.6 453.8 1542.1 448.4 1546.6 443.0C1551.0 437.7 1555.6 432.3 1560.0 427.0C1564.5 421.6 1569.0 416.2 1573.4 410.9C1577.9 405.5 1582.3 400.2 1586.6 394.8C1591.0 389.4 1595.3 384.0 1599.5 378.6C1603.8 373.2 1608.9 366.5 1612.0 362.4C1615.1 358.3 1617.1 355.5 1618.1 354.1Q1628.3 345.2 1615.5 340.7Z"/><path transform="translate(0.4 0)" d="M1615.5 340.7C1614.1 339.8 1611.2 337.9 1606.8 335.3C1602.4 332.6 1595.1 328.3 1589.1 324.9C1583.2 321.5 1577.1 318.2 1571.1 315.0C1565.0 311.8 1558.8 308.6 1552.6 305.6C1546.4 302.6 1540.2 299.6 1533.9 296.8C1527.6 294.0 1521.2 291.2 1514.8 288.6C1508.4 286.0 1501.9 283.5 1495.4 281.2C1488.9 278.8 1482.3 276.6 1475.7 274.5C1469.2 272.5 1462.5 270.5 1455.9 268.8C1449.2 267.0 1442.5 265.4 1435.8 263.9C1429.1 262.5 1422.3 261.2 1415.5 260.1C1408.7 259.0 1401.9 258.1 1395.1 257.3C1388.3 256.6 1381.4 256.0 1374.6 255.5C1367.7 255.1 1360.8 254.8 1353.9 254.6C1347.0 254.4 1340.1 254.3 1333.2 254.4C1326.3 254.4 1319.4 254.5 1312.5 254.7C1305.6 254.8 1298.7 255.1 1291.8 255.4C1284.8 255.6 1277.9 256.0 1271.0 256.3C1264.1 256.7 1257.2 257.1 1250.3 257.5C1243.5 257.9 1236.6 258.4 1229.7 258.9C1222.8 259.5 1216.0 260.0 1209.1 260.7C1202.3 261.3 1195.4 262.0 1188.6 262.8C1181.8 263.6 1175.0 264.5 1168.2 265.4C1161.4 266.4 1154.6 267.4 1147.9 268.5C1141.1 269.7 1134.4 270.9 1127.6 272.2C1120.9 273.6 1114.2 275.0 1107.5 276.6C1100.8 278.1 1094.2 279.8 1087.5 281.6C1080.9 283.4 1074.3 285.3 1067.7 287.4C1061.1 289.5 1054.5 291.7 1048.0 294.0C1041.5 296.4 1035.0 298.9 1028.6 301.6C1022.2 304.2 1015.8 307.1 1009.6 310.1C1003.4 313.1 997.2 316.3 991.2 319.6C985.2 323.0 979.3 326.6 973.5 330.3C967.8 334.1 962.2 338.1 956.8 342.2C951.4 346.4 946.2 350.8 941.2 355.4C936.2 360.1 931.4 364.9 926.8 370.0C922.3 375.1 918.0 380.5 913.9 386.0C909.8 391.6 906.0 397.4 902.4 403.3C898.7 409.3 895.3 415.4 891.9 421.6C888.6 427.7 885.4 434.1 882.3 440.3C879.1 446.6 876.1 453.0 873.1 459.2C870.1 465.5 867.1 471.7 864.1 477.8C861.1 484.0 858.2 490.1 855.3 496.2C852.3 502.3 849.4 508.4 846.5 514.5C843.6 520.6 840.8 526.7 837.9 532.9C835.1 539.0 832.3 545.2 829.5 551.5C826.7 557.7 824.0 563.9 821.2 570.2C818.4 576.5 815.7 582.8 812.9 589.1C810.1 595.4 807.3 601.7 804.4 608.0C801.6 614.3 798.7 620.6 795.8 626.8C792.8 633.1 789.8 639.3 786.8 645.5C783.7 651.7 780.5 657.9 777.3 664.0C774.1 670.0 770.8 676.1 767.4 682.1C764.0 688.1 760.5 694.0 757.0 699.9C753.4 705.8 749.8 711.7 746.1 717.5C742.4 723.3 738.6 729.1 734.8 734.8C731.0 740.5 727.1 746.2 723.1 751.8C719.2 757.5 715.2 763.1 711.1 768.6C707.1 774.2 702.9 779.7 698.8 785.2C694.6 790.7 690.4 796.1 686.2 801.5C681.9 806.9 677.6 812.3 673.3 817.6C669.0 823.0 664.6 828.3 660.2 833.6C655.8 838.9 651.4 844.1 646.9 849.3C642.5 854.6 638.0 859.8 633.5 865.0C629.1 870.2 624.6 875.4 620.1 880.6C615.6 885.8 611.1 891.0 606.6 896.3C602.2 901.6 597.7 906.8 593.3 912.2C588.8 917.5 583.5 924.4 580.0 928.2C576.5 932.0 573.6 934.1 572.4 935.2Q560.3 942.3 573.3 947.6C574.7 948.6 577.7 950.8 582.1 953.7C586.5 956.5 593.8 961.1 599.7 964.6C605.7 968.2 611.7 971.6 617.7 974.9C623.8 978.1 630.0 981.3 636.2 984.3C642.4 987.4 648.6 990.3 655.0 993.1C661.3 995.8 667.7 998.5 674.1 1001.0C680.5 1003.5 687.0 1005.9 693.5 1008.2C700.0 1010.4 706.6 1012.6 713.2 1014.5C719.8 1016.5 726.5 1018.4 733.2 1020.1C739.9 1021.8 746.6 1023.4 753.3 1024.8C760.1 1026.2 766.9 1027.5 773.7 1028.6C780.5 1029.8 787.3 1030.8 794.1 1031.7C801.0 1032.6 807.9 1033.3 814.7 1034.0C821.6 1034.6 828.5 1035.1 835.4 1035.6C842.3 1036.0 849.2 1036.4 856.1 1036.6C863.1 1036.9 870.0 1037.0 876.9 1037.1C883.8 1037.2 890.7 1037.2 897.6 1037.2C904.5 1037.1 911.4 1037.0 918.3 1036.8C925.2 1036.6 932.1 1036.4 939.0 1036.1C945.9 1035.7 952.7 1035.4 959.6 1034.9C966.5 1034.4 973.3 1033.9 980.2 1033.2C987.0 1032.6 993.9 1031.9 1000.7 1031.1C1007.5 1030.3 1014.4 1029.4 1021.2 1028.5C1028.0 1027.5 1034.8 1026.4 1041.6 1025.2C1048.4 1024.1 1055.2 1022.8 1062.0 1021.5C1068.8 1020.1 1075.6 1018.6 1082.4 1017.1C1089.1 1015.5 1095.9 1013.8 1102.7 1012.0C1109.4 1010.2 1116.2 1008.3 1122.9 1006.3C1129.6 1004.3 1136.3 1002.1 1142.8 999.8C1149.4 997.4 1156.0 995.0 1162.4 992.3C1168.8 989.6 1175.2 986.8 1181.4 983.8C1187.7 980.8 1193.8 977.6 1199.8 974.2C1205.8 970.8 1211.6 967.2 1217.3 963.3C1223.0 959.5 1228.5 955.4 1233.8 951.1C1239.2 946.8 1244.3 942.3 1249.3 937.5C1254.2 932.8 1259.0 927.8 1263.6 922.7C1268.2 917.6 1272.6 912.3 1276.8 906.8C1281.0 901.4 1285.0 895.8 1288.9 890.1C1292.7 884.4 1296.4 878.5 1299.9 872.6C1303.4 866.7 1306.8 860.6 1310.1 854.6C1313.4 848.5 1316.6 842.3 1319.7 836.2C1322.8 830.0 1325.9 823.8 1328.9 817.5C1331.9 811.3 1334.8 805.0 1337.7 798.7C1340.5 792.4 1343.4 786.0 1346.2 779.7C1349.0 773.4 1351.8 767.0 1354.5 760.6C1357.3 754.2 1360.0 747.9 1362.8 741.5C1365.6 735.1 1368.3 728.7 1371.1 722.3C1373.8 716.0 1376.6 709.6 1379.4 703.2C1382.3 696.9 1385.1 690.6 1388.0 684.3C1390.8 678.0 1393.8 671.7 1396.7 665.4C1399.7 659.2 1402.7 653.0 1405.8 646.8C1408.9 640.6 1412.0 634.5 1415.3 628.4C1418.5 622.4 1421.8 616.3 1425.2 610.4C1428.6 604.4 1432.1 598.5 1435.6 592.7C1439.2 586.8 1442.8 581.0 1446.5 575.2C1450.2 569.5 1453.9 563.8 1457.8 558.1C1461.6 552.4 1465.5 546.8 1469.5 541.2C1473.4 535.6 1477.4 530.0 1481.5 524.5C1485.6 518.9 1489.8 513.4 1494.0 507.9C1498.2 502.5 1502.4 497.0 1506.7 491.6C1511.0 486.1 1515.4 480.7 1519.8 475.3C1524.2 469.9 1528.6 464.5 1533.1 459.1C1537.6 453.8 1542.1 448.4 1546.6 443.0C1551.0 437.7 1555.6 432.3 1560.0 427.0C1564.5 421.6 1569.0 416.2 1573.4 410.9C1577.9 405.5 1582.3 400.2 1586.6 394.8C1591.0 389.4 1595.3 384.0 1599.5 378.6C1603.8 373.2 1608.9 366.5 1612.0 362.4C1615.1 358.3 1617.1 355.5 1618.1 354.1Q1628.3 345.2 1615.5 340.7Z"/></g>
<g stroke="#02AC49"><path transform="translate(-0.4 0)" d="M1614.1 335.8C1612.6 334.6 1609.5 331.9 1605.1 328.7C1600.7 325.5 1593.6 320.4 1587.8 316.6C1581.9 312.7 1576.0 309.0 1569.9 305.4C1563.9 301.9 1557.8 298.5 1551.7 295.3C1545.5 292.1 1539.3 289.0 1533.0 286.1C1526.7 283.2 1520.4 280.5 1514.0 277.9C1507.5 275.3 1501.1 272.9 1494.6 270.6C1488.0 268.3 1481.5 266.2 1474.8 264.2C1468.2 262.2 1461.6 260.3 1454.8 258.6C1448.1 256.8 1441.4 255.3 1434.6 253.8C1427.8 252.3 1421.0 251.0 1414.1 249.7C1407.3 248.5 1400.4 247.4 1393.4 246.4C1386.5 245.5 1379.6 244.6 1372.6 243.8C1365.6 243.1 1358.6 242.4 1351.6 241.9C1344.6 241.3 1337.6 240.9 1330.5 240.6C1323.5 240.2 1316.4 240.0 1309.4 239.8C1302.3 239.7 1295.2 239.6 1288.2 239.7C1281.1 239.7 1274.0 239.8 1267.0 240.0C1259.9 240.2 1252.8 240.5 1245.8 240.9C1238.7 241.2 1231.7 241.6 1224.6 242.1C1217.6 242.6 1210.5 243.2 1203.5 243.8C1196.5 244.5 1189.5 245.2 1182.6 245.9C1175.6 246.7 1168.6 247.5 1161.7 248.5C1154.8 249.4 1147.9 250.4 1141.1 251.6C1134.2 252.7 1127.4 253.9 1120.6 255.3C1113.8 256.7 1107.0 258.2 1100.3 259.8C1093.6 261.4 1086.9 263.2 1080.2 265.1C1073.6 267.1 1067.0 269.2 1060.5 271.4C1053.9 273.7 1047.4 276.1 1041.0 278.7C1034.5 281.4 1028.1 284.2 1021.8 287.2C1015.4 290.2 1009.1 293.4 1002.9 296.9C996.8 300.4 990.4 304.0 984.7 308.1C979.0 312.2 973.4 316.6 968.7 321.5C963.9 326.4 959.9 332.0 956.0 337.7C952.1 343.3 948.7 349.5 945.2 355.6C941.7 361.6 938.4 367.9 935.2 374.2C932.0 380.5 928.9 386.9 925.8 393.2C922.8 399.6 919.9 406.0 917.1 412.4C914.2 418.8 911.5 425.2 908.8 431.6C906.1 438.1 903.5 444.5 900.9 451.0C898.3 457.5 895.8 464.0 893.2 470.4C890.7 476.9 888.2 483.4 885.7 489.9C883.2 496.4 880.7 502.9 878.2 509.4C875.7 515.9 873.2 522.4 870.6 528.9C868.1 535.4 865.5 541.9 862.8 548.4C860.2 554.9 857.5 561.4 854.7 567.8C852.0 574.3 849.2 580.7 846.3 587.1C843.5 593.5 840.6 599.9 837.6 606.2C834.6 612.6 831.5 618.9 828.4 625.2C825.3 631.4 822.1 637.7 818.8 643.9C815.5 650.0 812.2 656.2 808.7 662.3C805.3 668.3 801.7 674.4 798.1 680.3C794.5 686.3 790.8 692.3 787.1 698.1C783.3 704.0 779.5 709.8 775.6 715.6C771.7 721.4 767.7 727.1 763.7 732.8C759.7 738.5 755.6 744.2 751.4 749.8C747.3 755.4 743.0 761.0 738.8 766.5C734.5 772.0 730.2 777.5 725.8 783.0C721.5 788.4 717.0 793.9 712.6 799.3C708.1 804.6 703.6 810.0 699.1 815.3C694.5 820.7 690.0 826.0 685.4 831.2C680.7 836.5 676.1 841.8 671.4 847.0C666.8 852.2 662.1 857.4 657.3 862.6C652.6 867.8 647.9 872.9 643.1 878.0C638.4 883.2 633.6 888.3 628.8 893.4C624.0 898.5 619.2 903.6 614.4 908.6C609.6 913.7 604.7 918.8 599.9 923.8C595.1 928.9 589.1 935.1 585.5 938.9C581.8 942.8 579.2 945.5 577.9 946.8Q566.6 954.2 578.6 960.4C580.1 961.7 583.1 964.5 587.4 967.8C591.6 971.1 598.6 976.4 604.4 980.3C610.1 984.3 616.0 988.1 622.0 991.6C628.0 995.2 634.0 998.6 640.2 1001.8C646.3 1005.0 652.6 1008.0 658.9 1010.8C665.2 1013.7 671.6 1016.3 678.0 1018.8C684.5 1021.3 691.0 1023.7 697.6 1025.9C704.2 1028.1 710.9 1030.1 717.6 1032.0C724.3 1033.9 731.0 1035.6 737.8 1037.3C744.6 1038.9 751.5 1040.4 758.4 1041.8C765.2 1043.1 772.2 1044.4 779.1 1045.5C786.1 1046.6 793.0 1047.7 800.0 1048.6C807.0 1049.5 814.1 1050.3 821.1 1051.1C828.1 1051.8 835.2 1052.4 842.2 1053.0C849.3 1053.5 856.3 1054.0 863.4 1054.4C870.4 1054.8 877.5 1055.2 884.5 1055.4C891.5 1055.7 898.6 1055.9 905.6 1056.1C912.6 1056.3 919.6 1056.4 926.6 1056.4C933.5 1056.4 940.5 1056.4 947.4 1056.3C954.4 1056.2 961.3 1056.1 968.3 1055.8C975.2 1055.5 982.1 1055.2 989.0 1054.7C995.9 1054.3 1002.8 1053.8 1009.7 1053.1C1016.6 1052.5 1023.5 1051.7 1030.4 1050.9C1037.3 1050.0 1044.2 1049.0 1051.1 1047.9C1058.0 1046.8 1064.9 1045.6 1071.8 1044.2C1078.7 1042.8 1085.6 1041.3 1092.6 1039.7C1099.5 1038.0 1106.4 1036.2 1113.3 1034.2C1120.2 1032.3 1127.1 1030.2 1133.8 1027.8C1140.6 1025.5 1147.3 1023.0 1153.9 1020.3C1160.5 1017.6 1167.0 1014.7 1173.3 1011.5C1179.5 1008.4 1185.7 1005.0 1191.6 1001.4C1197.5 997.8 1203.3 993.9 1208.7 989.8C1214.2 985.6 1219.4 981.3 1224.3 976.6C1229.2 971.9 1233.8 966.9 1238.1 961.6C1242.5 956.4 1246.5 950.8 1250.3 945.1C1254.0 939.4 1257.6 933.4 1260.9 927.3C1264.3 921.2 1267.4 914.9 1270.4 908.5C1273.3 902.1 1276.1 895.5 1278.9 888.9C1281.6 882.3 1284.2 875.6 1286.7 868.9C1289.2 862.2 1291.7 855.4 1294.1 848.7C1296.6 842.0 1298.9 835.3 1301.4 828.6C1303.8 822.0 1306.2 815.4 1308.6 808.8C1311.0 802.2 1313.5 795.7 1315.9 789.2C1318.4 782.6 1320.9 776.2 1323.5 769.7C1326.0 763.3 1328.6 756.8 1331.2 750.4C1333.9 744.0 1336.6 737.7 1339.4 731.3C1342.1 724.9 1345.0 718.6 1347.9 712.3C1350.8 705.9 1353.9 699.6 1356.9 693.3C1360.0 687.0 1363.2 680.8 1366.4 674.5C1369.7 668.3 1373.0 662.1 1376.4 655.9C1379.8 649.8 1383.3 643.6 1386.8 637.5C1390.4 631.4 1394.0 625.4 1397.7 619.4C1401.4 613.3 1405.1 607.4 1408.9 601.5C1412.8 595.6 1416.7 589.7 1420.6 583.9C1424.6 578.1 1428.6 572.4 1432.7 566.7C1436.8 561.0 1441.0 555.3 1445.2 549.7C1449.4 544.2 1453.7 538.6 1458.0 533.1C1462.3 527.6 1466.7 522.2 1471.1 516.7C1475.5 511.3 1479.9 505.9 1484.4 500.6C1488.9 495.2 1493.4 489.9 1497.9 484.6C1502.5 479.3 1507.0 474.0 1511.6 468.7C1516.2 463.4 1520.8 458.2 1525.4 452.9C1530.1 447.7 1534.7 442.4 1539.3 437.2C1544.0 432.0 1548.6 426.8 1553.3 421.5C1557.9 416.3 1562.6 411.0 1567.2 405.8C1571.8 400.6 1576.5 395.3 1581.1 390.0C1585.7 384.8 1590.3 379.5 1594.9 374.2C1599.4 368.9 1605.1 362.2 1608.5 358.2C1612.0 354.1 1614.4 351.1 1615.6 349.7Q1626.3 341.6 1614.1 335.8Z"/><path transform="translate(0.4 0)" d="M1614.1 335.8C1612.6 334.6 1609.5 331.9 1605.1 328.7C1600.7 325.5 1593.6 320.4 1587.8 316.6C1581.9 312.7 1576.0 309.0 1569.9 305.4C1563.9 301.9 1557.8 298.5 1551.7 295.3C1545.5 292.1 1539.3 289.0 1533.0 286.1C1526.7 283.2 1520.4 280.5 1514.0 277.9C1507.5 275.3 1501.1 272.9 1494.6 270.6C1488.0 268.3 1481.5 266.2 1474.8 264.2C1468.2 262.2 1461.6 260.3 1454.8 258.6C1448.1 256.8 1441.4 255.3 1434.6 253.8C1427.8 252.3 1421.0 251.0 1414.1 249.7C1407.3 248.5 1400.4 247.4 1393.4 246.4C1386.5 245.5 1379.6 244.6 1372.6 243.8C1365.6 243.1 1358.6 242.4 1351.6 241.9C1344.6 241.3 1337.6 240.9 1330.5 240.6C1323.5 240.2 1316.4 240.0 1309.4 239.8C1302.3 239.7 1295.2 239.6 1288.2 239.7C1281.1 239.7 1274.0 239.8 1267.0 240.0C1259.9 240.2 1252.8 240.5 1245.8 240.9C1238.7 241.2 1231.7 241.6 1224.6 242.1C1217.6 242.6 1210.5 243.2 1203.5 243.8C1196.5 244.5 1189.5 245.2 1182.6 245.9C1175.6 246.7 1168.6 247.5 1161.7 248.5C1154.8 249.4 1147.9 250.4 1141.1 251.6C1134.2 252.7 1127.4 253.9 1120.6 255.3C1113.8 256.7 1107.0 258.2 1100.3 259.8C1093.6 261.4 1086.9 263.2 1080.2 265.1C1073.6 267.1 1067.0 269.2 1060.5 271.4C1053.9 273.7 1047.4 276.1 1041.0 278.7C1034.5 281.4 1028.1 284.2 1021.8 287.2C1015.4 290.2 1009.1 293.4 1002.9 296.9C996.8 300.4 990.4 304.0 984.7 308.1C979.0 312.2 973.4 316.6 968.7 321.5C963.9 326.4 959.9 332.0 956.0 337.7C952.1 343.3 948.7 349.5 945.2 355.6C941.7 361.6 938.4 367.9 935.2 374.2C932.0 380.5 928.9 386.9 925.8 393.2C922.8 399.6 919.9 406.0 917.1 412.4C914.2 418.8 911.5 425.2 908.8 431.6C906.1 438.1 903.5 444.5 900.9 451.0C898.3 457.5 895.8 464.0 893.2 470.4C890.7 476.9 888.2 483.4 885.7 489.9C883.2 496.4 880.7 502.9 878.2 509.4C875.7 515.9 873.2 522.4 870.6 528.9C868.1 535.4 865.5 541.9 862.8 548.4C860.2 554.9 857.5 561.4 854.7 567.8C852.0 574.3 849.2 580.7 846.3 587.1C843.5 593.5 840.6 599.9 837.6 606.2C834.6 612.6 831.5 618.9 828.4 625.2C825.3 631.4 822.1 637.7 818.8 643.9C815.5 650.0 812.2 656.2 808.7 662.3C805.3 668.3 801.7 674.4 798.1 680.3C794.5 686.3 790.8 692.3 787.1 698.1C783.3 704.0 779.5 709.8 775.6 715.6C771.7 721.4 767.7 727.1 763.7 732.8C759.7 738.5 755.6 744.2 751.4 749.8C747.3 755.4 743.0 761.0 738.8 766.5C734.5 772.0 730.2 777.5 725.8 783.0C721.5 788.4 717.0 793.9 712.6 799.3C708.1 804.6 703.6 810.0 699.1 815.3C694.5 820.7 690.0 826.0 685.4 831.2C680.7 836.5 676.1 841.8 671.4 847.0C666.8 852.2 662.1 857.4 657.3 862.6C652.6 867.8 647.9 872.9 643.1 878.0C638.4 883.2 633.6 888.3 628.8 893.4C624.0 898.5 619.2 903.6 614.4 908.6C609.6 913.7 604.7 918.8 599.9 923.8C595.1 928.9 589.1 935.1 585.5 938.9C581.8 942.8 579.2 945.5 577.9 946.8Q566.6 954.2 578.6 960.4C580.1 961.7 583.1 964.5 587.4 967.8C591.6 971.1 598.6 976.4 604.4 980.3C610.1 984.3 616.0 988.1 622.0 991.6C628.0 995.2 634.0 998.6 640.2 1001.8C646.3 1005.0 652.6 1008.0 658.9 1010.8C665.2 1013.7 671.6 1016.3 678.0 1018.8C684.5 1021.3 691.0 1023.7 697.6 1025.9C704.2 1028.1 710.9 1030.1 717.6 1032.0C724.3 1033.9 731.0 1035.6 737.8 1037.3C744.6 1038.9 751.5 1040.4 758.4 1041.8C765.2 1043.1 772.2 1044.4 779.1 1045.5C786.1 1046.6 793.0 1047.7 800.0 1048.6C807.0 1049.5 814.1 1050.3 821.1 1051.1C828.1 1051.8 835.2 1052.4 842.2 1053.0C849.3 1053.5 856.3 1054.0 863.4 1054.4C870.4 1054.8 877.5 1055.2 884.5 1055.4C891.5 1055.7 898.6 1055.9 905.6 1056.1C912.6 1056.3 919.6 1056.4 926.6 1056.4C933.5 1056.4 940.5 1056.4 947.4 1056.3C954.4 1056.2 961.3 1056.1 968.3 1055.8C975.2 1055.5 982.1 1055.2 989.0 1054.7C995.9 1054.3 1002.8 1053.8 1009.7 1053.1C1016.6 1052.5 1023.5 1051.7 1030.4 1050.9C1037.3 1050.0 1044.2 1049.0 1051.1 1047.9C1058.0 1046.8 1064.9 1045.6 1071.8 1044.2C1078.7 1042.8 1085.6 1041.3 1092.6 1039.7C1099.5 1038.0 1106.4 1036.2 1113.3 1034.2C1120.2 1032.3 1127.1 1030.2 1133.8 1027.8C1140.6 1025.5 1147.3 1023.0 1153.9 1020.3C1160.5 1017.6 1167.0 1014.7 1173.3 1011.5C1179.5 1008.4 1185.7 1005.0 1191.6 1001.4C1197.5 997.8 1203.3 993.9 1208.7 989.8C1214.2 985.6 1219.4 981.3 1224.3 976.6C1229.2 971.9 1233.8 966.9 1238.1 961.6C1242.5 956.4 1246.5 950.8 1250.3 945.1C1254.0 939.4 1257.6 933.4 1260.9 927.3C1264.3 921.2 1267.4 914.9 1270.4 908.5C1273.3 902.1 1276.1 895.5 1278.9 888.9C1281.6 882.3 1284.2 875.6 1286.7 868.9C1289.2 862.2 1291.7 855.4 1294.1 848.7C1296.6 842.0 1298.9 835.3 1301.4 828.6C1303.8 822.0 1306.2 815.4 1308.6 808.8C1311.0 802.2 1313.5 795.7 1315.9 789.2C1318.4 782.6 1320.9 776.2 1323.5 769.7C1326.0 763.3 1328.6 756.8 1331.2 750.4C1333.9 744.0 1336.6 737.7 1339.4 731.3C1342.1 724.9 1345.0 718.6 1347.9 712.3C1350.8 705.9 1353.9 699.6 1356.9 693.3C1360.0 687.0 1363.2 680.8 1366.4 674.5C1369.7 668.3 1373.0 662.1 1376.4 655.9C1379.8 649.8 1383.3 643.6 1386.8 637.5C1390.4 631.4 1394.0 625.4 1397.7 619.4C1401.4 613.3 1405.1 607.4 1408.9 601.5C1412.8 595.6 1416.7 589.7 1420.6 583.9C1424.6 578.1 1428.6 572.4 1432.7 566.7C1436.8 561.0 1441.0 555.3 1445.2 549.7C1449.4 544.2 1453.7 538.6 1458.0 533.1C1462.3 527.6 1466.7 522.2 1471.1 516.7C1475.5 511.3 1479.9 505.9 1484.4 500.6C1488.9 495.2 1493.4 489.9 1497.9 484.6C1502.5 479.3 1507.0 474.0 1511.6 468.7C1516.2 463.4 1520.8 458.2 1525.4 452.9C1530.1 447.7 1534.7 442.4 1539.3 437.2C1544.0 432.0 1548.6 426.8 1553.3 421.5C1557.9 416.3 1562.6 411.0 1567.2 405.8C1571.8 400.6 1576.5 395.3 1581.1 390.0C1585.7 384.8 1590.3 379.5 1594.9 374.2C1599.4 368.9 1605.1 362.2 1608.5 358.2C1612.0 354.1 1614.4 351.1 1615.6 349.7Q1626.3 341.6 1614.1 335.8Z"/></g>
</g>
<g class="ln">
<g fill="none" stroke-width="11" stroke-linecap="round">
<line stroke="#3867C1" x1="1471.2" y1="791.2" x2="1631.5" y2="791.2"/>
<line stroke="#EF7625" x1="1471.2" y1="899" x2="1631.5" y2="899"/>
<line stroke="#9FA0A0" x1="1471.2" y1="1007.3" x2="1631.5" y2="1007.3"/>
<line stroke="#02AC49" x1="1471.2" y1="1115" x2="1631.5" y2="1115"/>
</g>
<g stroke="#000" stroke-width="11.4" fill="none" stroke-linejoin="round" stroke-linecap="round">
<rect x="387.3" y="86.8" width="1420.0" height="1123.7"/>
<g stroke-linecap="butt">
<line x1="459" y1="1210.5" x2="459" y2="1190.5"/>
<line x1="531" y1="1210.5" x2="531" y2="1190.5"/>
<line x1="599" y1="1210.5" x2="599" y2="1190.5"/>
<line x1="671" y1="1210.5" x2="671" y2="1190.5"/>
<line x1="743" y1="1210.5" x2="743" y2="1181.9"/>
<line x1="815" y1="1210.5" x2="815" y2="1190.5"/>
<line x1="882.6" y1="1210.5" x2="882.6" y2="1190.5"/>
<line x1="954.4" y1="1210.5" x2="954.4" y2="1190.5"/>
<line x1="1027" y1="1210.5" x2="1027" y2="1190.5"/>
<line x1="1095.3" y1="1210.5" x2="1095.3" y2="1181.9"/>
<line x1="1167" y1="1210.5" x2="1167" y2="1190.5"/>
<line x1="1239" y1="1210.5" x2="1239" y2="1190.5"/>
<line x1="1311" y1="1210.5" x2="1311" y2="1190.5"/>
<line x1="1379" y1="1210.5" x2="1379" y2="1190.5"/>
<line x1="1451" y1="1210.5" x2="1451" y2="1181.9"/>
<line x1="1522.6" y1="1210.5" x2="1522.6" y2="1190.5"/>
<line x1="1591" y1="1210.5" x2="1591" y2="1190.5"/>
<line x1="1662.6" y1="1210.5" x2="1662.6" y2="1190.5"/>
<line x1="1735" y1="1210.5" x2="1735" y2="1190.5"/>
<line x1="387.3" y1="275" x2="407.3" y2="275"/>
<line x1="387.3" y1="462.7" x2="407.3" y2="462.7"/>
<line x1="387.3" y1="646.7" x2="415.9" y2="646.7"/>
<line x1="387.3" y1="834.5" x2="407.3" y2="834.5"/>
<line x1="387.3" y1="1022.5" x2="407.3" y2="1022.5"/>
</g>
</g>
</g>
<g class="tx">
<text transform="translate(184.78 113.60) scale(0.9691 1)" font-size="80.60">300</text>
<text transform="translate(268.23 673.60) scale(1.0468 1)" font-size="80.60">0</text>
<text transform="translate(155.71 1233.60) scale(0.9900 1)" font-size="80.60">-300</text>
<text transform="translate(312.76 1340.90) scale(0.9751 1)" font-size="80.60">-200</text>
<text transform="translate(663.22 1340.90) scale(0.9854 1)" font-size="80.60">-100</text>
<text transform="translate(1076.13 1340.90) scale(1.0443 1)" font-size="80.60">0</text>
<text transform="translate(1388.47 1340.90) scale(0.9661 1)" font-size="80.60">100</text>
<text transform="translate(1741.35 1340.90) scale(0.9549 1)" font-size="80.60">200</text>
<text transform="translate(1649.59 817.20) scale(0.9033 1)" font-size="79.00">NF1</text>
<text transform="translate(1649.61 925.70) scale(0.9005 1)" font-size="79.00">NF2</text>
<text transform="translate(1649.56 1028.30) scale(0.9077 1)" font-size="79.00">NF3</text>
<text transform="translate(1649.57 1136.30) scale(0.9074 1)" font-size="79.00">NF4</text>
<text transform="translate(649.53 1495.60) scale(0.9829 1)" font-size="92.50">Electric</text>
<text transform="translate(970.33 1495.60) scale(1.0516 1)" font-size="92.50">field</text>
<text transform="translate(1169.17 1495.60) scale(1.0496 1)" font-size="92.50">(MV/m)</text>
<g transform="translate(113.6 0) rotate(-90)">
<text transform="translate(-1339.24 0.00) scale(0.9788 1)" font-size="92.50">Electric</text>
<text transform="translate(-1020.19 0.00) scale(0.9979 1)" font-size="92.50">displacement</text>
<text transform="translate(-452.25 0.00) scale(1.0174 1)" font-size="92.50">(mC/m</text>
<text transform="translate(-168.08 -31.50) scale(0.9465 1)" font-size="65.00">2</text>
<text transform="translate(-110.35 0.00) scale(0.7185 1)" font-size="91.00">)</text>
</g>
</g>
</svg>
</body>
</html>
